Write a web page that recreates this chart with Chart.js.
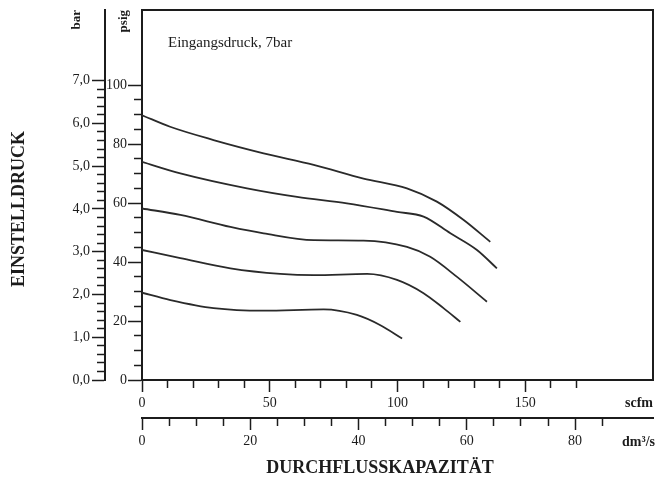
<!DOCTYPE html>
<html>
<head>
<meta charset="utf-8">
<script src="https://cdn.jsdelivr.net/npm/chart.js@4.4.0/dist/chart.umd.min.js"></script>
<style>
  body { margin: 0; background: #fff; }
  #wrap { position: relative; width: 656px; height: 484px; }
</style>
</head>
<body>
<div id="wrap"><canvas id="chart"></canvas></div>
<script>
// flow in scfm, set pressure in bar (inlet pressure 7 bar)
const curve1Flow = [0, 11, 28, 47.6, 67.2, 86.7, 103.7, 115.4, 125.9, 136.3];
const curve1Bar  = [6.19, 5.92, 5.61, 5.30, 5.03, 4.71, 4.48, 4.17, 3.74, 3.23];
const curve2Flow = [0, 15, 41.1, 60.7, 80.2, 99.8, 110.2, 120.7, 131.1, 138.9];
const curve2Bar  = [5.10, 4.83, 4.48, 4.28, 4.13, 3.93, 3.82, 3.43, 3.04, 2.61];
const curve3Flow = [0, 15, 34.6, 47.6, 67.2, 86.7, 103.7, 112.8, 123.3, 135];
const curve3Bar  = [4.01, 3.86, 3.58, 3.43, 3.27, 3.26, 3.11, 2.88, 2.41, 1.83];
const curve4Flow = [0, 15, 34.6, 54.1, 67.2, 88.1, 99.8, 110.2, 118, 124.6];
const curve4Bar  = [3.04, 2.85, 2.61, 2.48, 2.45, 2.48, 2.34, 2.03, 1.68, 1.36];
const curve5Flow = [0, 11.1, 28, 47.6, 71.1, 84.1, 93.3, 101.8];
const curve5Bar  = [2.04, 1.87, 1.68, 1.62, 1.65, 1.52, 1.28, 0.97];

// tick labels (major) and minor steps
const barLabels  = [0, 1, 2, 3, 4, 5, 6, 7];
const psigLabels = [0, 20, 40, 60, 80, 100];
const scfmLabels = [0, 50, 100, 150];
const dmLabels   = [0, 20, 40, 60, 80];
const barStep = 0.2, barLast = 7;
const psigStep = 5, psigLast = 100;
const scfmStep = 10, scfmLast = 170;
const dmStep = 5, dmLast = 85;

const PSI_PER_BAR = 14.5038;
const DM3S_PER_SCFM = 0.471947;
const BAR_MAX = 8.65;
const SCFM_MAX = 200;

const INK = '#1c1c1c';
const SERIF = "'Liberation Serif', 'DejaVu Serif', serif";

function tickList(step, last, majors) {
  const out = [];
  const n = Math.round(last / step);
  for (let i = 0; i <= n; i++) {
    const v = +(i * step).toFixed(4);
    out.push({ value: v, isMajor: majors.some(m => Math.abs(m - v) < 1e-6) });
  }
  return out;
}

function pairs(xs, ys) {
  return xs.map((x, i) => ({ x: x, y: ys[i] }));
}

// minor ticks shorter: dash the tick line
function leftAxis(major, minor, labels, step, last, fmt, weight, width, pad) {
  return {
    type: 'linear',
    position: 'left',
    weight: weight,
    border: { display: true, color: INK, width: 2 },
    grid: {
      drawOnChartArea: false,
      tickLength: major,
      tickColor: INK,
      tickWidth: 1.5,
      tickBorderDash: c => (c.tick && !c.tick.isMajor) ? [minor, major - minor] : [],
      tickBorderDashOffset: c => (c.tick && !c.tick.isMajor) ? minor : 0
    },
    ticks: {
      autoSkip: false,
      padding: pad,
      color: INK,
      font: { family: SERIF, size: 14 },
      callback: (v, i, t) => t[i].isMajor ? fmt(v) : ''
    },
    afterBuildTicks: a => { a.ticks = tickList(step, last, labels); },
    afterFit: a => { a.width = width; a.paddingTop = 0; a.paddingBottom = 0; }
  };
}

function bottomAxis(major, minor, labels, step, last, weight, height) {
  return {
    type: 'linear',
    position: 'bottom',
    weight: weight,
    border: { display: true, color: INK, width: 2 },
    grid: {
      drawOnChartArea: false,
      tickLength: major,
      tickColor: INK,
      tickWidth: 1.5,
      tickBorderDash: c => (c.tick && !c.tick.isMajor) ? [minor, 50] : []
    },
    ticks: {
      autoSkip: false,
      maxRotation: 0,
      padding: 3,
      color: INK,
      font: { family: SERIF, size: 14 },
      callback: (v, i, t) => t[i].isMajor ? String(v) : ''
    },
    afterBuildTicks: a => { a.ticks = tickList(step, last, labels); },
    afterFit: a => { a.height = height; a.paddingLeft = 0; a.paddingRight = 0; }
  };
}

const scales = {
  x: Object.assign(bottomAxis(12, 7, scfmLabels, scfmStep, scfmLast, 0, 38), { min: 0, max: SCFM_MAX }),
  xDm: Object.assign(bottomAxis(12, 7, dmLabels, dmStep, dmLast, 1, 66), { min: 0, max: SCFM_MAX * DM3S_PER_SCFM }),
  y: Object.assign(leftAxis(14, 8, psigLabels, psigStep, psigLast, v => String(v), 0, 37, 1), { min: 0, max: BAR_MAX * PSI_PER_BAR }),
  yBar: Object.assign(leftAxis(13, 8, barLabels, barStep, barLast, v => v.toFixed(1).replace('.', ','), 1, 105, 2), { min: 0, max: BAR_MAX })
};

const extras = {
  id: 'extras',
  afterDraw(chart) {
    const { ctx, chartArea: a } = chart;
    ctx.save();
    ctx.strokeStyle = INK;
    ctx.lineWidth = 2;
    ctx.beginPath();
    ctx.moveTo(a.left, a.top);
    ctx.lineTo(a.right, a.top);
    ctx.lineTo(a.right, a.bottom);
    ctx.stroke();

    ctx.fillStyle = INK;
    function vtext(s, x, y, font, align) {
      ctx.save();
      ctx.translate(x, y);
      ctx.rotate(-Math.PI / 2);
      ctx.font = font;
      ctx.textAlign = align;
      ctx.textBaseline = 'middle';
      ctx.fillText(s, 0, 0);
      ctx.restore();
    }
    vtext('bar', 77, 10, 'bold 13px ' + SERIF, 'right');
    vtext('psig', 124, 10, 'bold 13px ' + SERIF, 'right');
    vtext('EINSTELLDRUCK', 19, 209, 'bold 18px ' + SERIF, 'center');

    ctx.textBaseline = 'middle';
    ctx.font = 'bold 14px ' + SERIF;
    ctx.textAlign = 'right';
    ctx.fillText('scfm', 653, 403);
    ctx.fillText('dm\u00b3/s', 655, 442);

    ctx.font = 'bold 18px ' + SERIF;
    ctx.textAlign = 'center';
    ctx.fillText('DURCHFLUSSKAPAZIT\u00c4T', 380, 468);

    ctx.font = '15px ' + SERIF;
    ctx.textAlign = 'left';
    ctx.fillText('Eingangsdruck, 7bar', 168, 43);
    ctx.restore();
  }
};

const lineStyle = {
  borderColor: '#2a2a2a',
  borderWidth: 1.8,
  pointRadius: 0,
  fill: false,
  cubicInterpolationMode: 'monotone',
  xAxisID: 'x',
  yAxisID: 'yBar'
};

new Chart(document.getElementById('chart'), {
  type: 'line',
  data: {
    datasets: [
      Object.assign({ data: pairs(curve1Flow, curve1Bar) }, lineStyle),
      Object.assign({ data: pairs(curve2Flow, curve2Bar) }, lineStyle),
      Object.assign({ data: pairs(curve3Flow, curve3Bar) }, lineStyle),
      Object.assign({ data: pairs(curve4Flow, curve4Bar) }, lineStyle),
      Object.assign({ data: pairs(curve5Flow, curve5Bar) }, lineStyle)
    ]
  },
  options: {
    responsive: true,
    maintainAspectRatio: false,
    animation: false,
    layout: { padding: { top: 10, right: 3, left: 0, bottom: 0 } },
    plugins: { legend: { display: false }, tooltip: { enabled: false } },
    scales: scales
  },
  plugins: [extras]
});
</script>
</body>
</html>
